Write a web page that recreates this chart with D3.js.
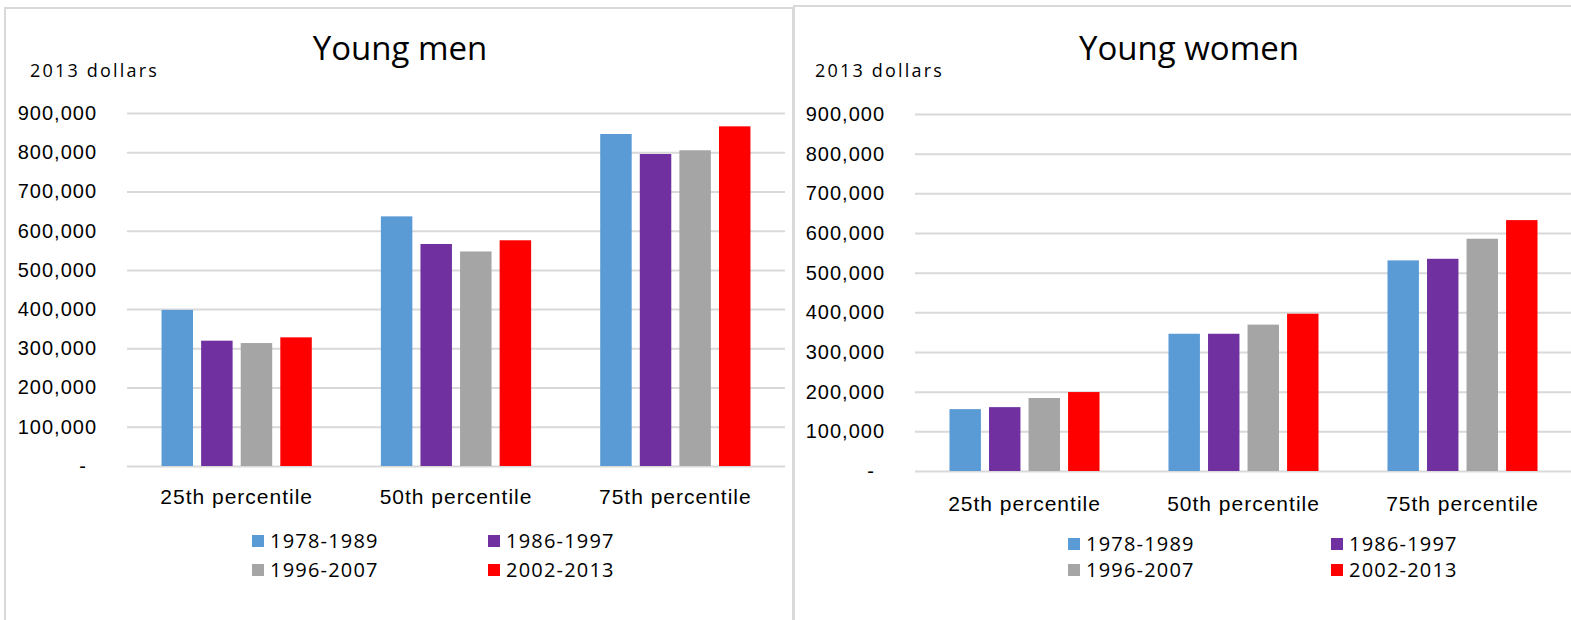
<!DOCTYPE html>
<html>
<head>
<meta charset="utf-8">
<script src="https://cdn.jsdelivr.net/npm/d3@7"></script>
<style>
  body { margin: 0; background: #fff; }
  svg { display: block; font-family: "Open Sans", sans-serif; }
</style>
</head>
<body>
<div id="chart"></div>
<script>
// ============= Data =============
const categories = ["25th percentile", "50th percentile", "75th percentile"];
const periods = ["1978-1989", "1986-1997", "1996-2007", "2002-2013"];
const menValues = [
  [398000, 319500, 313500, 328000],
  [636500, 566000, 547000, 575500],
  [846500, 795500, 805000, 866000]
];
const womenValues = [
  [156000, 161000, 184000, 199000],
  [346000, 346000, 369000, 396500],
  [531000, 535000, 585500, 632500]
];
const yTicks = [0, 100000, 200000, 300000, 400000, 500000, 600000, 700000, 800000, 900000];
const palette = ["#5b9bd5", "#7030a0", "#a5a5a5", "#ff0000"];

const width = 1571;
const height = 620;

const svg = d3.select("#chart")
  .append("svg")
  .attr("width", width)
  .attr("height", height);

const colorScale = d3.scaleOrdinal().domain(periods).range(palette);
const fmt = d3.format(",");

// ============= One panel =============
function drawPanel(p) {
  const g = svg.append("g");

  // frame
  g.append("rect")
    .attr("x", p.frame.x).attr("y", p.frame.y)
    .attr("width", p.frame.w).attr("height", p.frame.h)
    .attr("fill", "#fff")
    .attr("stroke", "#d9d9d9")
    .attr("stroke-width", 2);

  const x0 = d3.scaleBand()
    .domain(categories)
    .range([p.left, p.right])
    .paddingInner(0.315)
    .paddingOuter(0.1575);

  const x1 = d3.scaleBand()
    .domain(periods)
    .range([0, x0.bandwidth()])
    .paddingInner(0.205);

  const y = d3.scaleLinear()
    .domain([0, 900000])
    .range([p.bottom, p.top]);

  // gridlines + tick labels
  const yAxis = g.append("g")
    .attr("transform", `translate(${p.left},0)`)
    .call(d3.axisLeft(y)
      .tickValues(yTicks)
      .tickSize(-(p.right - p.left))
      .tickPadding(30)
      .tickFormat(d => d === 0 ? "-" : fmt(d)));
  yAxis.select(".domain").remove();
  yAxis.selectAll(".tick line")
    .attr("stroke", "#d9d9d9")
    .attr("stroke-width", 2);
  yAxis.selectAll(".tick text")
    .attr("fill", "#000")
    .style("font-size", "20px")
    .style("letter-spacing", "1px")
    .attr("x", d => d === 0 ? -40 : -30);

  // bars
  const rows = categories.map((c, i) => ({ category: c, values: p.values[i] }));
  g.append("g").selectAll("g")
    .data(rows)
    .join("g")
    .attr("transform", d => `translate(${x0(d.category)},0)`)
    .selectAll("rect")
    .data(d => periods.map((per, j) => ({ period: per, value: d.values[j] })))
    .join("rect")
    .attr("x", d => x1(d.period))
    .attr("y", d => y(d.value))
    .attr("width", x1.bandwidth())
    .attr("height", d => y(0) - y(d.value))
    .attr("fill", d => colorScale(d.period));

  // category labels
  const xAxis = g.append("g")
    .attr("transform", `translate(0,${p.bottom})`)
    .call(d3.axisBottom(x0).tickSize(0).tickPadding(p.catPad));
  xAxis.select(".domain").remove();
  xAxis.selectAll(".tick text")
    .attr("fill", "#000")
    .style("font-size", "21px")
    .style("letter-spacing", "1px");

  // title
  g.append("text")
    .attr("x", p.titleX).attr("y", 60)
    .attr("text-anchor", "middle")
    .style("font-size", "33px")
    .attr("fill", "#000")
    .text(p.title);

  // units label
  g.append("text")
    .attr("x", p.unitX).attr("y", 77)
    .style("font-size", "18px")
    .style("letter-spacing", "2.2px")
    .attr("fill", "#000")
    .text("2013 dollars");

  // legend (2 x 2)
  const legend = g.append("g").selectAll("g")
    .data(periods)
    .join("g")
    .attr("transform", (d, i) =>
      `translate(${p.legendX[i % 2]},${p.legendY[Math.floor(i / 2)]})`);
  legend.append("rect")
    .attr("x", 0).attr("y", -13)
    .attr("width", 12).attr("height", 12)
    .attr("fill", d => colorScale(d));
  legend.append("text")
    .attr("x", 18).attr("y", 0)
    .style("font-size", "20px")
    .style("letter-spacing", "1.2px")
    .attr("fill", "#000")
    .text(d => d);
}

drawPanel({
  title: "Young men",
  values: menValues,
  frame: { x: 5, y: 8, w: 788, h: 640 },
  left: 127, right: 785, top: 113, bottom: 466,
  catPad: 23,
  titleX: 400, unitX: 30,
  legendX: [252, 488], legendY: [548, 577]
});

drawPanel({
  title: "Young women",
  values: womenValues,
  frame: { x: 794, y: 6, w: 800, h: 640 },
  left: 915, right: 1572, top: 114, bottom: 471,
  catPad: 25,
  titleX: 1189, unitX: 815,
  legendX: [1068, 1331], legendY: [551, 577]
});
</script>
</body>
</html>
